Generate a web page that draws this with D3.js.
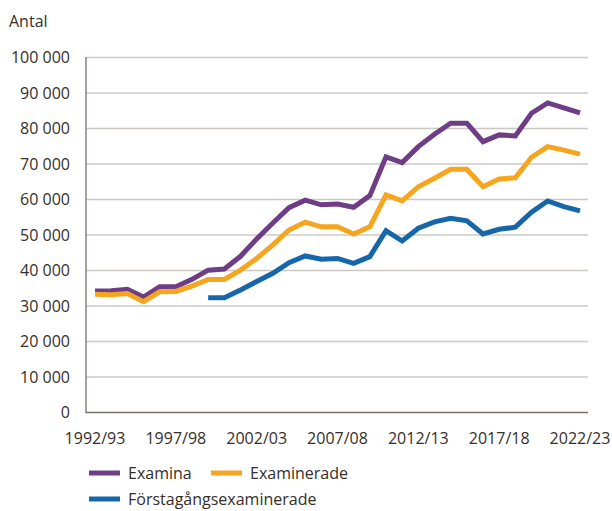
<!DOCTYPE html>
<html><head><meta charset="utf-8">
<script src="https://cdn.jsdelivr.net/npm/d3@7"></script>
<style>body{margin:0;background:#fff}svg{display:block}text{font-family:"Open Sans",sans-serif;fill:#362e28}</style>
</head><body><svg id="c" width="612" height="511"></svg>
<script>
const years = ["1992/93","1993/94","1994/95","1995/96","1996/97","1997/98","1998/99","1999/00","2000/01","2001/02","2002/03","2003/04","2004/05","2005/06","2006/07","2007/08","2008/09","2009/10","2010/11","2011/12","2012/13","2013/14","2014/15","2015/16","2016/17","2017/18","2018/19","2019/20","2020/21","2021/22","2022/23"];
const tickLabels = ["1992/93","1997/98","2002/03","2007/08","2012/13","2017/18","2022/23"];
const yTicks = [0,10000,20000,30000,40000,50000,60000,70000,80000,90000,100000];
const examina = [34200,34300,34700,32500,35400,35400,37500,40100,40400,44000,48900,53400,57700,59800,58500,58700,57800,61100,72000,70400,74900,78400,81500,81500,76300,78200,77900,84300,87200,85800,84400];
const examinerade = [33300,33200,33500,31200,34000,34100,35600,37500,37500,40100,43400,47200,51400,53600,52300,52300,50300,52300,61300,59600,63600,66000,68500,68500,63600,65800,66100,71900,74900,73900,72800];
const forstagang = [null,null,null,null,null,null,null,32300,32300,34500,36900,39200,42200,44100,43200,43400,42000,43900,51200,48300,51900,53700,54700,54000,50300,51600,52200,56400,59600,58000,56800];
const seriesNames = ["Examina","Examinerade","Förstagångsexaminerade"];
const colors = ["#6e3d86","#f6a51f","#1667a9"];

const svg = d3.select("#c");
const x = d3.scalePoint().domain(years).range([95,580]);
const y = d3.scaleLinear().domain([0,100000]).range([412.5,57.5]);

svg.append("g").selectAll("line").data(yTicks.filter(d=>d>0)).join("line")
  .attr("x1",86).attr("x2",588).attr("y1",d=>y(d)).attr("y2",d=>y(d))
  .attr("stroke","#cdc8c4").attr("stroke-width",1.5);

const fmt = d => d3.format(",")(d).replace(/,/g," ");
svg.append("g").selectAll("text").data(yTicks).join("text")
  .attr("x",70).attr("y",d=>y(d)+5.5).attr("text-anchor","end")
  .style("font-size","16px").text(fmt);

svg.append("text").attr("x",9).attr("y",27).style("font-size","16px").text("Antal");

svg.append("g").selectAll("text").data(tickLabels).join("text")
  .attr("x",d=>x(d)).attr("y",444).attr("text-anchor","middle")
  .style("font-size","16px").text(d=>d);

const line = d3.line().defined(d=>d.v!=null).x(d=>x(d.yr)).y(d=>y(d.v));
[examina,examinerade,forstagang].forEach((s,i)=>{
  svg.append("path").datum(s.map((v,j)=>({yr:years[j],v})))
    .attr("d",line).attr("fill","none").attr("stroke",colors[i])
    .attr("stroke-width",5).attr("stroke-linejoin","miter");
});

svg.append("line").attr("x1",86).attr("x2",86).attr("y1",57).attr("y2",413).attr("stroke","#8a817b").attr("stroke-width",1.5);
svg.append("line").attr("x1",85.5).attr("x2",588).attr("y1",y(0)).attr("y2",y(0)).attr("stroke","#7a706a").attr("stroke-width",1.5);

const leg = [{n:seriesNames[0],c:colors[0],x:89,y:473},{n:seriesNames[1],c:colors[1],x:211,y:473},{n:seriesNames[2],c:colors[2],x:89,y:499}];
leg.forEach(l=>{
  svg.append("line").attr("x1",l.x).attr("x2",l.x+31).attr("y1",l.y).attr("y2",l.y).attr("stroke",l.c).attr("stroke-width",5);
  svg.append("text").attr("x",l.x+39).attr("y",l.y+6).style("font-size","16px").text(l.n);
});
</script></body></html>
